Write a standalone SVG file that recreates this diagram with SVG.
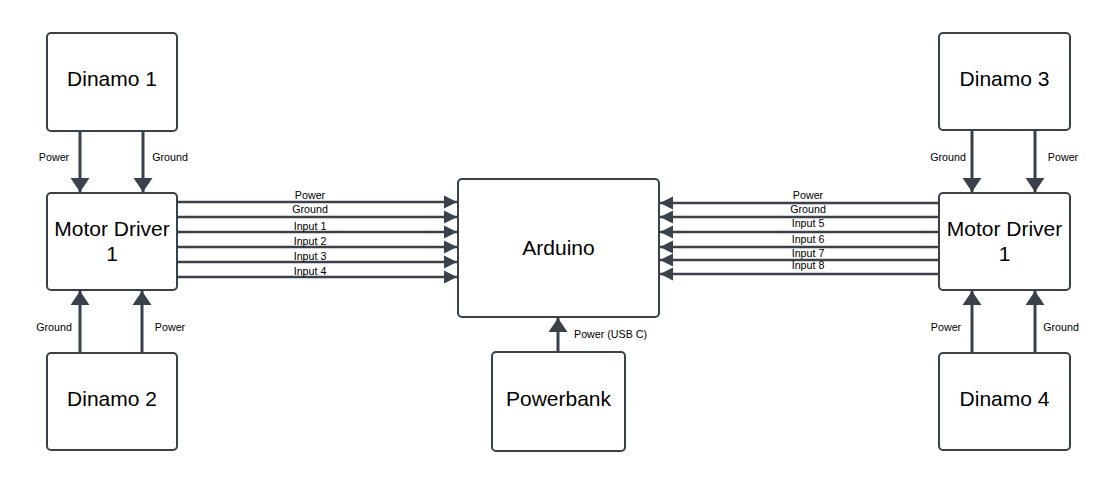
<svg xmlns="http://www.w3.org/2000/svg" width="1116" height="483" viewBox="0 0 1116 483">
<style>
.box{fill:#ffffff;stroke:#3a414a;stroke-width:2}
.t{font-family:"Liberation Sans",Arial,sans-serif;font-size:21px;fill:#000000;text-anchor:middle}
.s{font-family:"Liberation Sans",Arial,sans-serif;font-size:10.7px;fill:#000000;text-anchor:middle}
.v{fill:none;stroke:#3a414a;stroke-width:3;marker-end:url(#big)}
.h{fill:none;stroke:#3a414a;stroke-width:2.5;marker-end:url(#small)}
</style>
<defs>
<marker id="big" markerUnits="userSpaceOnUse" markerWidth="15" markerHeight="19" refX="14" refY="9.5" orient="auto" overflow="visible">
<path d="M0,0 L14,9.5 L0,19 z" fill="#3a414a"/>
</marker>
<marker id="small" markerUnits="userSpaceOnUse" markerWidth="14" markerHeight="14" refX="13" refY="6.5" orient="auto" overflow="visible">
<path d="M0,0 L13,6.5 L0,13 z" fill="#3a414a"/>
</marker>
</defs>
<rect width="1116" height="483" fill="#ffffff"/>
<g id="connectors">
<path class="v" d="M80,131 L80,192"/>
<path class="v" d="M143,131 L143,192"/>
<path class="v" d="M80,353 L80,291"/>
<path class="v" d="M142,353 L142,291"/>
<path class="v" d="M972,130 L972,192"/>
<path class="v" d="M1035,130 L1035,192"/>
<path class="v" d="M972,353 L972,291"/>
<path class="v" d="M1035,353 L1035,291"/>
<path class="v" d="M558,352 L558,318"/>
<path class="h" d="M178,202 L457,202"/>
<path class="h" d="M178,217 L457,217"/>
<path class="h" d="M178,232 L457,232"/>
<path class="h" d="M178,247 L457,247"/>
<path class="h" d="M178,262 L457,262"/>
<path class="h" d="M178,277 L457,277"/>
<path class="h" d="M938,203 L660,203"/>
<path class="h" d="M938,217 L660,217"/>
<path class="h" d="M938,232 L660,232"/>
<path class="h" d="M938,247 L660,247"/>
<path class="h" d="M938,260 L660,260"/>
<path class="h" d="M938,274 L660,274"/>
<text class="s" x="54" y="161">Power</text>
<text class="s" x="170" y="161">Ground</text>
<text class="s" x="54" y="331">Ground</text>
<text class="s" x="170" y="331">Power</text>
<text class="s" x="948" y="161">Ground</text>
<text class="s" x="1063" y="161">Power</text>
<text class="s" x="946" y="331">Power</text>
<text class="s" x="1061" y="331">Ground</text>
<text class="s" x="574" y="338" style="text-anchor:start">Power (USB C)</text>
<text class="s" x="310" y="199">Power</text>
<text class="s" x="310" y="213">Ground</text>
<text class="s" x="310" y="230">Input 1</text>
<text class="s" x="310" y="245">Input 2</text>
<text class="s" x="310" y="260">Input 3</text>
<text class="s" x="310" y="275">Input 4</text>
<text class="s" x="808" y="199">Power</text>
<text class="s" x="808" y="213">Ground</text>
<text class="s" x="808" y="227">Input 5</text>
<text class="s" x="808" y="243">Input 6</text>
<text class="s" x="808" y="257">Input 7</text>
<text class="s" x="808" y="269">Input 8</text>
</g>
<g id="dinamo1"><rect class="box" x="47" y="33" width="130" height="98" rx="4"/><text class="t" x="112" y="85.5">Dinamo 1</text></g>
<g id="motordriver-left"><rect class="box" x="47" y="193" width="130" height="97" rx="4"/><text class="t" x="112" y="235.5">Motor Driver</text><text class="t" x="112" y="260.5">1</text></g>
<g id="dinamo2"><rect class="box" x="47" y="353" width="130" height="97" rx="4"/><text class="t" x="112" y="405.5">Dinamo 2</text></g>
<g id="arduino"><rect class="box" x="458" y="179" width="201" height="138" rx="4"/><text class="t" x="558.5" y="254.5">Arduino</text></g>
<g id="powerbank"><rect class="box" x="492" y="352" width="133" height="99" rx="4"/><text class="t" x="558.5" y="405.5">Powerbank</text></g>
<g id="dinamo3"><rect class="box" x="939" y="33" width="131" height="97" rx="4"/><text class="t" x="1004.5" y="85.5">Dinamo 3</text></g>
<g id="motordriver-right"><rect class="box" x="939" y="193" width="131" height="97" rx="4"/><text class="t" x="1004.5" y="235.5">Motor Driver</text><text class="t" x="1004.5" y="260.5">1</text></g>
<g id="dinamo4"><rect class="box" x="939" y="353" width="131" height="97" rx="4"/><text class="t" x="1004.5" y="405.5">Dinamo 4</text></g>
</svg>
